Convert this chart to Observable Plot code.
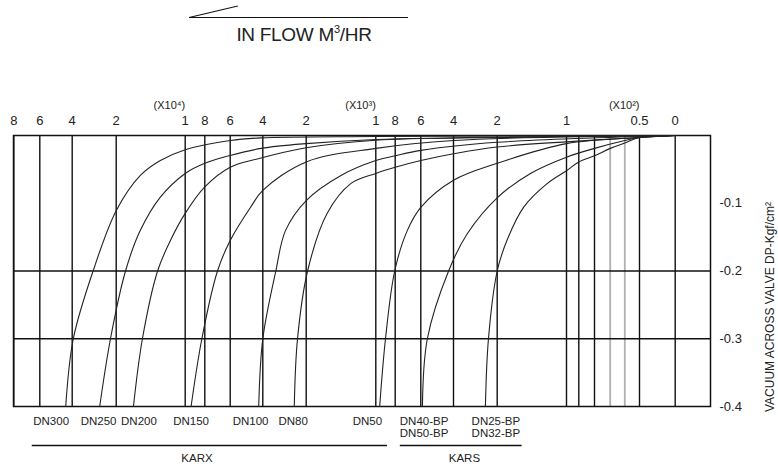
<!DOCTYPE html>
<html><head><meta charset="utf-8">
<script src="https://cdn.jsdelivr.net/npm/d3@7"></script>
<script src="https://cdn.jsdelivr.net/npm/@observablehq/plot@0.6"></script>
<style>
body{margin:0;background:#fff;font-family:"Liberation Sans",Arial,sans-serif;color:#222;}
#wrap{position:relative;width:778px;height:468px;overflow:hidden;}
#hline{position:absolute;left:189px;top:17px;width:219px;height:0;border-top:1.3px solid #111;}
#slant{position:absolute;left:189px;top:17px;width:50px;height:0;border-top:1px solid #111;transform-origin:0 0;transform:rotate(-13.2deg);}
#title{position:absolute;left:184px;width:240px;top:25px;text-align:center;font-size:19px;line-height:19px;letter-spacing:-0.3px;}
#title sup{font-size:11px;vertical-align:8px;line-height:0;}
</style></head><body>
<div id="wrap">
<div id="chart"></div>
<div id="hline"></div><div id="slant"></div>
<div id="title">IN FLOW M<sup>3</sup>/HR</div>
</div>
<script>
// ---- data (flow in m3/hr, vacuum in kgf/cm2) ----
const xGridBlack = [80000,60000,40000,20000,10000,8000,6000,4000,2000,1000,800,600,400,200,100,90,80,50,0];
const xGridGray = [70,60];
const xLabelTicks = [80000,60000,40000,20000,10000,8000,6000,4000,2000,1000,800,600,400,200,100,50,0];
const xLabelText = ["8","6","4","2","1","8","6","4","2","1","8","6","4","2","1","0.5","0"];
const expAt = [10000,1000,50];
const expText = ["(X10\u2074)","(X10\u00b3)","(X10\u00b2)"];
const yTicks = [-0.1,-0.2,-0.3,-0.4];
const yGrid = [-0.2,-0.3];
const yTitle = "VACUUM ACROSS VALVE DP-Kgf/cm\u00b2";

const dn300Flow = [44000,39500,30500,20000,16500,13600,10000,6000,4100,1000,0];
const dn300Dp   = [-0.4,-0.3,-0.2,-0.111,-0.059,-0.037,-0.021,-0.0074,-0.0035,-0.0015,0];
const dn250Flow = [27500,22600,18650,16500,13600,10000,8000,6000,4100,2000,1000,0];
const dn250Dp   = [-0.4,-0.3,-0.2,-0.14,-0.091,-0.056,-0.041,-0.0295,-0.019,-0.012,-0.006,0];
const dn200Flow = [17500,16200,14000,12000,10000,8000,6000,4400,2000,1000,200,0];
const dn200Dp   = [-0.4,-0.3,-0.2,-0.152,-0.115,-0.076,-0.047,-0.035,-0.018,-0.007,-0.003,0];
const dn150Flow = [9400,8300,7000,6000,4750,4000,2000,1000,400,0];
const dn150Dp   = [-0.4,-0.3,-0.2,-0.155,-0.106,-0.081,-0.039,-0.019,-0.0074,0];
const dn100Flow = [4250,4000,3400,2950,2000,1500,1000,800,600,200,0];
const dn100Dp   = [-0.4,-0.3,-0.2,-0.14,-0.096,-0.059,-0.037,-0.03,-0.022,-0.01,0];
const dn80Flow  = [2550,2400,1980,1700,1360,1000,800,600,400,200,50,0];
const dn80Dp    = [-0.4,-0.3,-0.2,-0.115,-0.071,-0.056,-0.047,-0.037,-0.027,-0.017,-0.003,0];
const dn50Flow  = [960,900,805,705,600,400,200,100,50,0];
const dn50Dp    = [-0.4,-0.3,-0.2,-0.14,-0.106,-0.066,-0.041,-0.012,-0.003,0];
const dn40Flow  = [590,560,430,337,200,152,100,80,60,50,0];
const dn40Dp    = [-0.4,-0.3,-0.2,-0.145,-0.092,-0.056,-0.032,-0.019,-0.0074,-0.003,0];
const dn25Flow  = [254,240,200,186,162,128,100,90,80,70,60,50,0];
const dn25Dp    = [-0.4,-0.3,-0.2,-0.155,-0.106,-0.071,-0.052,-0.039,-0.03,-0.019,-0.011,-0.003,0];

const curveNames = ["DN300","DN250","DN200","DN150","DN100","DN80","DN50","DN40-BP","DN25-BP"];
const curveFlows = [dn300Flow,dn250Flow,dn200Flow,dn150Flow,dn100Flow,dn80Flow,dn50Flow,dn40Flow,dn25Flow];
const curveDps   = [dn300Dp,dn250Dp,dn200Dp,dn150Dp,dn100Dp,dn80Dp,dn50Dp,dn40Dp,dn25Dp];

const sizeLabels = ["DN300","DN250","DN200","DN150","DN100","DN80","DN50","DN40-BP\nDN50-BP","DN25-BP\nDN32-BP"];
const sizeLabelAt = [53000,28000,16700,9400,4750,2600,1120,580,206];

const groupNames = ["KARX","KARS"];
const groupFrom = [65800,760];
const groupTo = [880,164];
const groupLabelAt = [8800,350];

// ---- layout (not data): piecewise positions of the hand-drawn flow axis ----
const layout = {
  xDomain: [80000,60000,40000,20000,10000,8000,6000,4000,2000,1000,800,600,400,200,100,90,80,70,60,50,0],
  xRange:  [13.3,39.3,71.7,115.7,184.7,204.3,229.7,262.3,305.7,375.3,394.7,420.3,453,496.7,566,578.3,594,609.7,624.3,639,674.7]
};

const rows = [];
curveNames.forEach((n,i) => curveFlows[i].forEach((f,j) => rows.push({name:n, flow:f, dp:curveDps[i][j]})));
const xLabelMap = new Map(xLabelTicks.map((t,i) => [t, xLabelText[i]]));
const exps = expAt.map((a,i) => ({at:a, text:expText[i]}));
const sizes = sizeLabels.map((t,i) => ({text:t, at:sizeLabelAt[i]}));
const groups = groupNames.map((n,i) => ({name:n, from:groupFrom[i], to:groupTo[i], at:groupLabelAt[i]}));
const baseY = () => -0.4;

const chart = Plot.plot({
  width: 778, height: 468,
  marginTop: 135, marginBottom: 62, marginLeft: 13, marginRight: 68,
  x: {type: "linear", domain: layout.xDomain, range: layout.xRange},
  y: {domain: [-0.4, 0]},
  style: {fontFamily: "Liberation Sans, Arial, sans-serif", color: "#222", background: "white", overflow: "visible"},
  marks: [
    Plot.ruleX(xGridGray, {stroke: "#b0b0b0", strokeWidth: 1.8}),
    Plot.ruleX(xGridBlack, {stroke: "#111", strokeWidth: 1.4}),
    Plot.ruleY(yGrid, {stroke: "#111", strokeWidth: 1.4}),
    Plot.frame({stroke: "#111", strokeWidth: 1.5}),
    Plot.line(rows, {x: "flow", y: "dp", z: "name", curve: "catmull-rom", stroke: "#222", strokeWidth: 1.1}),
    Plot.axisX({anchor: "top", ticks: xLabelTicks, tickFormat: d => xLabelMap.get(d), tickSize: 0, tickPadding: 11, fontSize: 13, label: null}),
    Plot.text(exps, {x: "at", text: "text", frameAnchor: "top", dy: -34, textAnchor: "end", fontSize: 11}),
    Plot.axisY({anchor: "right", ticks: yTicks, tickFormat: d => String(d), tickSize: 0, tickPadding: 9, fontSize: 13, label: null}),
    Plot.text([yTitle], {frameAnchor: "right", rotate: -90, textAnchor: "middle", dx: 60, dy: 36, fontSize: 12}),
    Plot.text(sizes, {x: "at", text: "text", frameAnchor: "bottom", lineAnchor: "top", dy: 10, fontSize: 11.5, lineHeight: 1.06}),
    Plot.ruleY(groups, {x1: "from", x2: "to", y: baseY, dy: 39, stroke: "#111", strokeWidth: 1.5}),
    Plot.text(groups, {x: "at", y: baseY, text: "name", dy: 52, fontSize: 11.5})
  ]
});
document.getElementById("chart").appendChild(chart);
</script>
</body></html>
